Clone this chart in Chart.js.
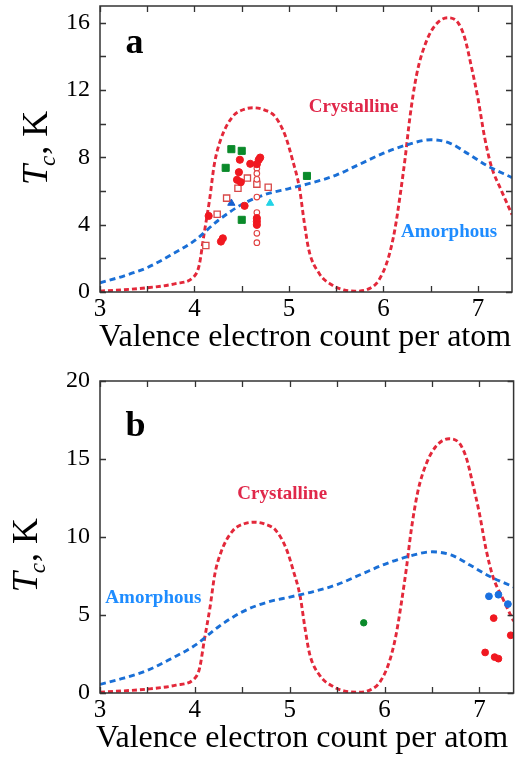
<!DOCTYPE html>
<html><head><meta charset="utf-8">
<script src="https://cdn.jsdelivr.net/npm/chart.js@4.4.0/dist/chart.umd.min.js"></script>
<style>
html,body{margin:0;padding:0;background:#fff;}
#wrap{position:relative;width:518px;height:757px;overflow:hidden;background:#fff;}
#ca{position:absolute;left:0;top:0;}
#cb{position:absolute;left:0;top:360px;}
</style></head><body>
<div id="wrap">
<canvas id="ca" width="518" height="360"></canvas>
<canvas id="cb" width="518" height="397"></canvas>
</div>
<script>
// ---------- Data ----------
const xCryst = [3.0,3.5,3.8,4.0,4.05,4.1,4.16,4.21,4.28,4.4,4.52,4.63,4.75,4.85,4.96,5.04,5.11,5.16,5.21,5.32,5.46,5.58,5.7,5.85,5.95,6.05,6.12,6.18,6.23,6.28,6.35,6.44,6.54,6.68,6.79,6.86,6.93,7.0,7.07,7.14,7.25,7.36];
const yCryst = [0.05,0.25,0.5,0.95,1.6,3.4,5.5,7.6,9.1,10.4,10.85,10.95,10.8,10.45,9.3,7.8,6.2,4.2,2.5,1.1,0.4,0.12,0.05,0.2,0.7,2.0,3.7,5.9,8.0,10.4,12.9,14.7,15.8,16.3,16.0,15.1,13.4,11.5,9.2,7.5,6.0,4.6];
const xAmor = [3.0,3.25,3.5,3.75,4.0,4.25,4.5,4.75,5.0,5.25,5.5,5.75,6.0,6.25,6.5,6.7,6.9,7.1,7.36];
const yAmor = [0.55,0.95,1.45,2.2,3.05,4.25,5.2,5.8,6.15,6.5,6.95,7.6,8.25,8.75,9.05,8.85,8.2,7.5,6.8];

// panel a points
const aRedFilledX = [4.695,4.68,4.66,4.48,4.59,4.47,4.45,4.49,4.53,4.15,4.30,4.28,4.66,4.66,4.66];
const aRedFilledY = [7.99,7.86,7.6,7.86,7.62,7.12,6.67,6.53,5.12,4.52,3.19,3.0,4.39,4.19,3.99];
const aRedOpenCircX = [4.66,4.66,4.66,4.66,4.66,4.66,4.66];
const aRedOpenCircY = [7.35,7.05,6.7,5.64,4.72,3.49,2.93];
const aRedOpenSqX = [4.56,4.46,4.66,4.78,4.34,4.24,4.12];
const aRedOpenSqY = [6.77,6.17,6.41,6.23,5.58,4.62,2.76];
const aGreenSqX = [4.39,4.50,4.33,5.19,4.50];
const aGreenSqY = [8.49,8.39,7.38,6.9,4.29];
const aBlueTriX = [4.39];
const aBlueTriY = [5.28];
const aCyanTriX = [4.80];
const aCyanTriY = [5.28];

// panel b points
const bRedX = [7.15,7.33,7.06,7.16,7.2];
const bRedY = [4.8,3.7,2.6,2.3,2.2];
const bBlueX = [7.1,7.2,7.3];
const bBlueY = [6.2,6.3,5.7];
const bGreenX = [5.78];
const bGreenY = [4.5];

// axes / tick labels
const xRange = [3, 7.36];
const xTickLabels = [3,4,5,6,7];
const yRangeA = [0, 17];
const yTickLabelsA = [0,4,8,12,16];
const yRangeB = [0, 20];
const yTickLabelsB = [0,5,10,15,20];

// texts
const xTitle = 'Valence electron count per atom';
const labelCryst = 'Crystalline';
const labelAmor = 'Amorphous';

// ---------- helpers ----------
const SERIF = '"Liberation Serif","Times New Roman",Times,serif';
const pts = (xs, ys) => xs.map((x, i) => ({x: x, y: ys[i]}));

function lineDs(xs, ys, color, dash) {
  return {type:'line', data: pts(xs, ys), borderColor: color, borderWidth: 2.9,
    borderDash: dash, pointRadius: 0, fill: false, cubicInterpolationMode: 'monotone', order: 10};
}
function scatterDs(xs, ys, style, radius, fillColor, borderColor, bw) {
  return {type:'scatter', data: pts(xs, ys), pointStyle: style, pointRadius: radius,
    pointBackgroundColor: fillColor, pointBorderColor: borderColor, pointBorderWidth: bw,
    pointHoverRadius: radius, order: 1};
}

const framePlugin = {
  id: 'frameAndText',
  afterDatasetsDraw(chart, args, opts) {
    const ctx = chart.ctx, a = chart.chartArea;
    const xs = chart.scales.x, ys = chart.scales.y;
    ctx.save();
    ctx.strokeStyle = '#333';
    ctx.lineWidth = 1.5;
    ctx.strokeRect(a.left, a.top, a.right - a.left, a.bottom - a.top);
    ctx.lineWidth = 1.3;
    ctx.beginPath();
    xs.ticks.forEach(t => {
      const p = Math.round(xs.getPixelForValue(t.value)) + 0.5;
      ctx.moveTo(p, a.bottom); ctx.lineTo(p, a.bottom - 6);
      ctx.moveTo(p, a.top); ctx.lineTo(p, a.top + 6);
    });
    ys.ticks.forEach(t => {
      const p = Math.round(ys.getPixelForValue(t.value)) + 0.5;
      ctx.moveTo(a.left, p); ctx.lineTo(a.left + 6, p);
      ctx.moveTo(a.right, p); ctx.lineTo(a.right - 6, p);
    });
    ctx.stroke();
    (opts.notes || []).forEach(n => {
      ctx.font = n.font;
      ctx.fillStyle = n.color;
      ctx.textAlign = n.align || 'center';
      ctx.textBaseline = 'alphabetic';
      ctx.fillText(n.text, xs.getPixelForValue(n.x), ys.getPixelForValue(n.y));
    });
    ctx.font = '32px ' + SERIF;
    ctx.fillStyle = '#000';
    ctx.textAlign = 'center';
    ctx.textBaseline = 'alphabetic';
    ctx.fillText(xTitle, opts.xTitleX, a.bottom + opts.xTitleDy);
    ctx.translate(opts.yTitleBase, ys.getPixelForValue(opts.yTitleCenter));
    ctx.rotate(-Math.PI / 2);
    ctx.textAlign = 'left';
    const fT = 'italic 36px ' + SERIF, fc = 'italic 23px ' + SERIF, fK = '36px ' + SERIF;
    ctx.font = fT; const wT = ctx.measureText('T').width;
    ctx.font = fc; const wc = ctx.measureText('c').width;
    ctx.font = fK; const wK = ctx.measureText(', K').width;
    let x0 = -(wT + wc + wK) / 2;
    ctx.font = fT; ctx.fillText('T', x0, 0); x0 += wT;
    ctx.font = fc; ctx.fillText('c', x0 - 1, 8); x0 += wc;
    ctx.font = fK; ctx.fillText(', K', x0, 0);
    ctx.restore();
  }
};

function makeScales(yRange, yLabels, yStep) {
  return {
    x: {type:'linear', min: xRange[0], max: xRange[1],
      grid: {display:false, drawTicks:false}, border: {display:false},
      ticks: {stepSize: 0.5, includeBounds: false, autoSkip: false, maxRotation: 0, padding: 2,
        color: '#000', font: {family: SERIF, size: 25},
        callback: v => xTickLabels.includes(v) ? String(v) : ''}},
    y: {type:'linear', min: yRange[0], max: yRange[1],
      grid: {display:false, drawTicks:false}, border: {display:false},
      afterFit(s){ s.width = 100; s.paddingTop = 0; s.paddingBottom = 0; },
      ticks: {stepSize: yStep, includeBounds: false, autoSkip: false, padding: 10,
        color: '#000', font: {family: SERIF, size: 24},
        callback: v => yLabels.includes(v) ? String(v) : ''}}
  };
}

const cryColor = '#e3283a', amoColor = '#1a6fd6';

const dsA = [
  scatterDs(aRedFilledX, aRedFilledY, 'circle', 3.6, '#f01820', '#f01820', 1),
  scatterDs(aRedOpenCircX, aRedOpenCircY, 'circle', 2.8, '#ffffff', '#e04040', 1.1),
  scatterDs(aRedOpenSqX, aRedOpenSqY, 'rect', 4.4, '#ffffff', '#d84848', 1.3),
  scatterDs(aGreenSqX, aGreenSqY, 'rect', 5, '#0a8a2a', '#0a8a2a', 1),
  scatterDs(aBlueTriX, aBlueTriY, 'triangle', 4.2, '#1560d0', '#1560d0', 1),
  scatterDs(aCyanTriX, aCyanTriY, 'triangle', 4.2, '#22d3e6', '#22d3e6', 1),
  lineDs(xAmor, yAmor, amoColor, [6, 4]),
  lineDs(xCryst, yCryst, cryColor, [5, 3])
];
const dsB = [
  scatterDs(bRedX, bRedY, 'circle', 3.4, '#f01820', '#f01820', 1),
  scatterDs(bBlueX, bBlueY, 'circle', 3.4, '#1a70e0', '#1a70e0', 1),
  scatterDs(bGreenX, bGreenY, 'circle', 3.2, '#0a8a2a', '#0a8a2a', 1),
  lineDs(xAmor, yAmor, amoColor, [6, 4]),
  lineDs(xCryst, yCryst, cryColor, [5, 3])
];

const noteFontC = 'bold 19px ' + SERIF;

function build(id, ds, top, plotH, yRange, yLabels, yStep, notes, frame) {
  const canvas = document.getElementById(id);
  const scales = makeScales(yRange, yLabels, yStep);
  scales.x.afterFit = s => { s.height = canvas.height - top - plotH; s.paddingLeft = 0; s.paddingRight = 0; };
  return new Chart(canvas, {
    data: {datasets: ds},
    options: {
      responsive: false, animation: false, devicePixelRatio: 1,
      layout: {padding: {top: top, right: 4, left: 0, bottom: 0}},
      plugins: {legend: {display:false}, tooltip: {enabled:false},
        frameAndText: Object.assign({notes: notes}, frame)},
      scales: scales
    },
    plugins: [framePlugin]
  });
}

build('ca', dsA, 5, 287, yRangeA, yTickLabelsA, 2, [
  {text: 'a', x: 3.27, y: 14.2, font: 'bold 36px ' + SERIF, color: '#000', align: 'left'},
  {text: labelCryst, x: 5.684, y: 10.7, font: noteFontC, color: '#e0284a'},
  {text: labelAmor, x: 6.695, y: 3.27, font: noteFontC, color: '#1e8cff'}
], {xTitleX: 305, xTitleDy: 54, yTitleBase: 47, yTitleCenter: 8.57});

build('cb', dsB, 21, 312, yRangeB, yTickLabelsB, 5, [
  {text: 'b', x: 3.27, y: 16.45, font: 'bold 36px ' + SERIF, color: '#000', align: 'left'},
  {text: labelCryst, x: 4.921, y: 12.45, font: noteFontC, color: '#e0284a'},
  {text: labelAmor, x: 3.563, y: 5.74, font: noteFontC, color: '#1e8cff'}
], {xTitleX: 302, xTitleDy: 54, yTitleBase: 37, yTitleCenter: 8.84});
</script>
</body></html>
